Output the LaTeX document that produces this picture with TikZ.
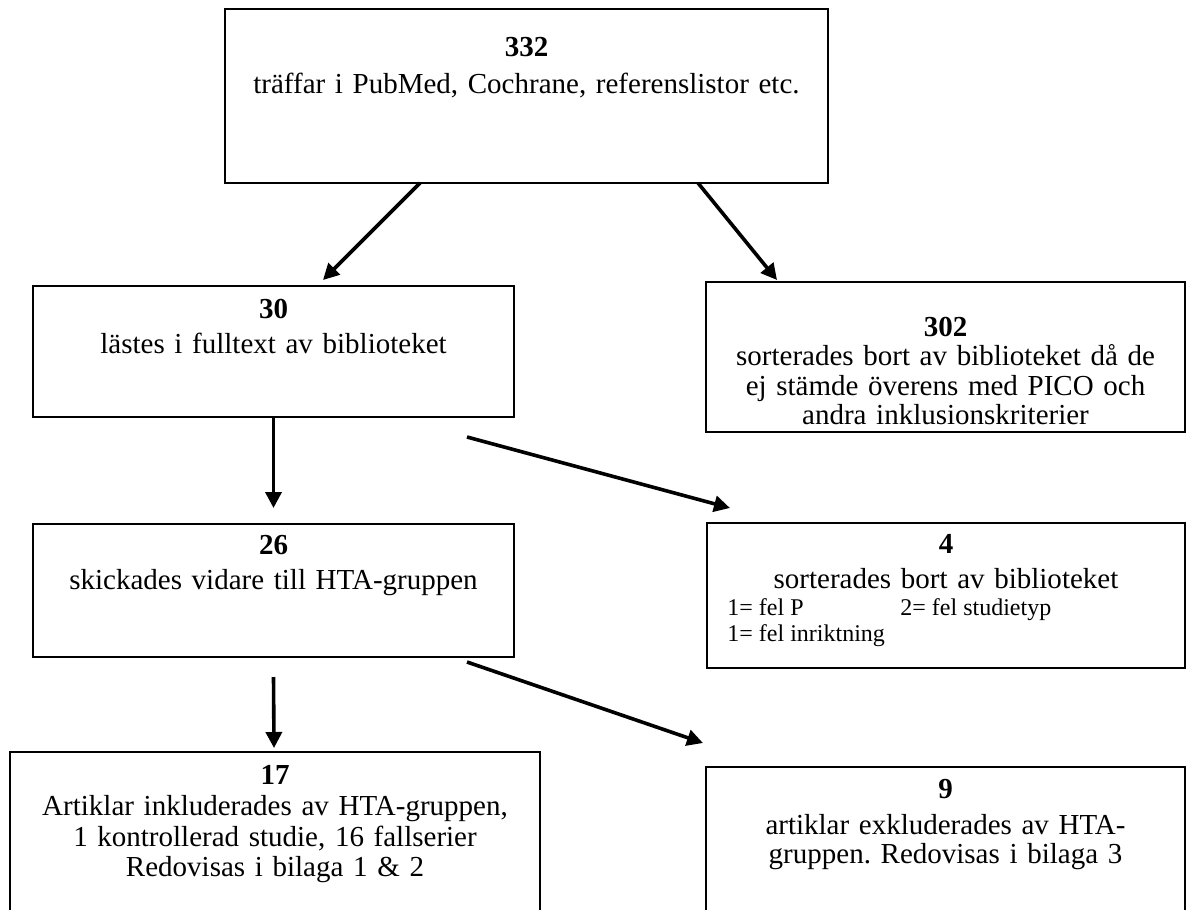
\documentclass[tikz,border=0pt]{standalone}
\usepackage{fontspec}
\setmainfont{Liberation Serif}
\usetikzlibrary{arrows.meta,calc}
\frenchspacing
\begin{document}
\begin{tikzpicture}[x=0.5pt,y=-0.5pt,
  box/.style n args={2}{draw, line width=0.75pt, minimum width=#1*0.5pt, minimum height=#2*0.5pt, anchor=north west, inner sep=0pt, outer sep=0pt},
  txt/.style={anchor=base, align=center, inner sep=0pt, text width=#1*0.5pt, font=\fontsize{14.5}{14.75}\selectfont},
  small/.style={anchor=base west, inner sep=0pt, font=\fontsize{12}{13.5}\selectfont},
  arr/.style={line width=1.8pt, -{Triangle[length=8pt,width=8pt]}}]
\useasboundingbox (0,0) rectangle (1186,909);
\clip (0,0) rectangle (1186,909);
% boxes
\node[box={603}{174}] (top) at (225,9) {};
\node[box={481}{131}] (b30) at (33,286) {};
\node[box={479}{150}] (b302) at (706,282) {};
\node[box={481}{133}] (b26) at (33,524) {};
\node[box={478}{145}] (b4) at (707,523) {};
\node[box={530}{220}] (b17) at (10,752) {};
\node[box={479}{220}] (b9) at (706,767) {};
% texts
\node[txt=600] (ttop) at (526.5,57) {\textbf{332}\\[3.5pt] träffar i PubMed, Cochrane, referenslistor etc.};
\node[txt=470] (t30) at (273.5,318) {\textbf{30}\\[2.75pt] lästes i fulltext av biblioteket};
\node[txt=470] (t302) at (945.5,336) {\textbf{302}\\ sorterades bort av biblioteket då de\\ ej stämde överens med PICO och\\ andra inklusionskriterier};
\node[txt=470] (t26) at (273.5,554) {\textbf{26}\\[2.75pt] skickades vidare till HTA-gruppen};
\node[txt=470] (t4) at (946,553) {\textbf{4}\\[2.75pt] sorterades bort av biblioteket};
\node[small] (s1) at (727,615) {1= fel P};
\node[small] (s2) at (900,615) {2= fel studietyp};
\node[small] (s3) at (727,641) {1= fel inriktning};
\node[txt=525] (t17) at (275,784) {\textbf{17}\\[1pt] Artiklar inkluderades av HTA-gruppen,\\[0.5pt] 1 kontrollerad studie, 16 fallserier\\[0.5pt] Redovisas i bilaga 1 \& 2};
\node[txt=470] (t9) at (945.5,798) {\textbf{9}\\[3.25pt] artiklar exkluderades av HTA-\\ gruppen. Redovisas i bilaga 3};
% arrows
\draw[arr] ($(top.south west)+(195,0)$) -- ($(b30.north west)+(290,-6)$);
\draw[arr] ($(top.south west)+(473,0)$) -- ($(b302.north west)+(71,-2)$);
\draw[arr] (b30.south) -- ($(b26.north)+(0,-16)$);
\draw[arr] ($(b30.south east)+(-47,20)$) -- ($(b4.north west)+(23,-15)$);
\draw[arr] ($(b26.south)+(0,20)$) -- ($(b17.north)+(-1,-4)$);
\draw[arr] ($(b26.south east)+(-47,5)$) -- ($(b9.north west)+(-3,-24)$);
\end{tikzpicture}
\end{document}
